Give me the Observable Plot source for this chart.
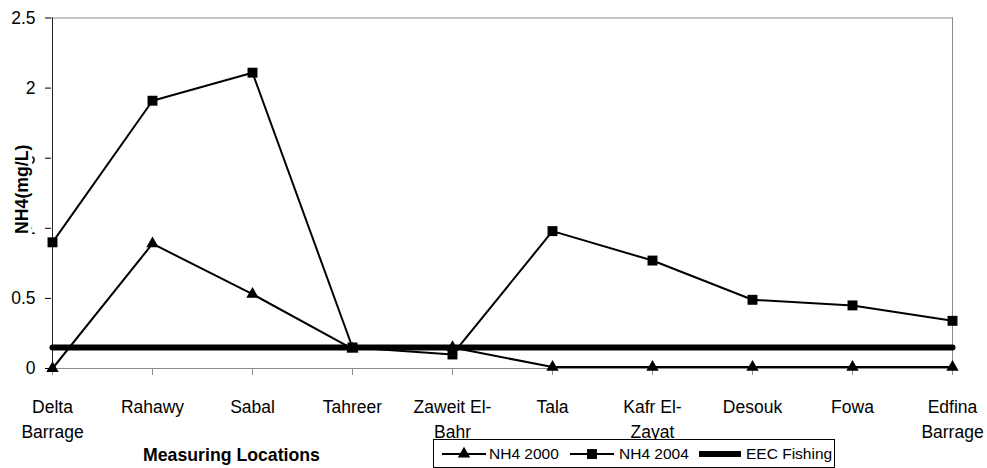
<!DOCTYPE html>
<html>
<head>
<meta charset="utf-8">
<script src="https://cdn.jsdelivr.net/npm/d3@7"></script>
<script src="https://cdn.jsdelivr.net/npm/@observablehq/plot@0.6"></script>
<style>
  body { margin: 0; background: #fff; }
  #chart { position: relative; width: 987px; height: 468px; font-family: "Liberation Sans", Arial, sans-serif; }
  #chart svg { display: block; }
  .legend { position: absolute; left: 433px; top: 439px; width: 400px; height: 27px; border: 1px solid #000; background: #fff; font-size: 15.5px; color: #000; }
  .legend .item { position: absolute; top: 0; height: 27px; line-height: 27px; white-space: nowrap; }
  .legend svg { position: absolute; top: 0; }
</style>
</head>
<body>
<div id="chart"></div>
<script>
// Measuring locations along the river (x categories)
const locations = ["Delta\nBarrage", "Rahawy", "Sabal", "Tahreer", "Zaweit El-\nBahr", "Tala", "Kafr El-\nZayat", "Desouk", "Fowa", "Edfina\nBarrage"];

// NH4 concentrations, mg/L
const nh4_2000 = [0.00, 0.89, 0.53, 0.14, 0.15, 0.01, 0.01, 0.01, 0.01, 0.01];
const nh4_2004 = [0.90, 1.91, 2.11, 0.15, 0.10, 0.98, 0.77, 0.49, 0.45, 0.34];
// EEC fishing standard
const eecFishing = [0.15, 0.15, 0.15, 0.15, 0.15, 0.15, 0.15, 0.15, 0.15, 0.15];

const yTicks = [0, 0.5, 1, 1.5, 2, 2.5];
const seriesNames = ["NH4 2000", "NH4 2004", "EEC Fishing"];
const xTitle = "Measuring Locations";
const yTitle = "NH4(mg/L)";

const rows = (vals) => locations.map((loc, i) => ({loc, v: vals[i]}));
const grey = "#8c8c8c";
const font = "'Liberation Sans', Arial, sans-serif";

const chart = Plot.plot({
  width: 987,
  height: 468,
  marginLeft: 51,
  marginRight: 34,
  marginTop: 17.5,
  marginBottom: 100,
  style: {fontFamily: font, fontSize: "17.5px", color: "black", background: "white", overflow: "visible"},
  x: {type: "point", domain: locations, padding: 0, label: null},
  y: {domain: [0, 2.5], label: null},
  marks: [
    // plot frame
    Plot.ruleY([2.5], {stroke: grey}),
    Plot.ruleX([locations[locations.length - 1]], {stroke: grey}),
    Plot.ruleY([0], {stroke: grey}),
    Plot.axisX({tickSize: 7, stroke: grey, fill: "black", tickPadding: 20, lineHeight: 1.43, fontSize: 17.5, label: null}),
    Plot.axisY({ticks: yTicks, tickFormat: d => `${d}`, tickSize: 6, tickPadding: 10, stroke: "black", fill: "black", fontSize: 17.5, label: null}),
    Plot.ruleX([locations[0]], {stroke: "#222"}),
    // series
    Plot.line(rows(eecFishing), {x: "loc", y: "v", stroke: "black", strokeWidth: 6}),
    Plot.line(rows(nh4_2000), {x: "loc", y: "v", stroke: "black", strokeWidth: 2}),
    Plot.dot(rows(nh4_2000), {x: "loc", y: "v", symbol: "triangle", r: 4.6, fill: "black", stroke: "none"}),
    Plot.line(rows(nh4_2004), {x: "loc", y: "v", stroke: "black", strokeWidth: 2}),
    Plot.dot(rows(nh4_2004), {x: "loc", y: "v", symbol: "square", r: 5.6, fill: "black", stroke: "none"}),
    // axis titles
    Plot.text([yTitle], {text: d => d, frameAnchor: "left", dx: -29, dy: -4, rotate: -90, textAnchor: "middle", lineAnchor: "middle", fontWeight: "bold", fontSize: 17.7, fill: "black", stroke: "white", strokeWidth: 8}),
    Plot.text([xTitle], {text: d => d, frameAnchor: "bottom-left", dx: 180, dy: 87, textAnchor: "middle", lineAnchor: "middle", fontWeight: "bold", fontSize: 17.7, fill: "black"})
  ]
});
document.getElementById("chart").append(chart);

// legend box below the plot
const legend = d3.select("#chart").append("div").attr("class", "legend");
const swatchLeft = [8, 136, 265];
const textLeft = [55, 185, 312];
const swatchW = [44, 44, 42];
seriesNames.forEach((name, i) => {
  const s = legend.append("svg").attr("width", swatchW[i]).attr("height", 27).style("left", swatchLeft[i] + "px");
  if (i < 2) {
    s.append("line").attr("x1", 0).attr("x2", swatchW[i]).attr("y1", 14).attr("y2", 14).attr("stroke", "black").attr("stroke-width", 2);
    s.append("path")
      .attr("transform", `translate(${swatchW[i] / 2},14)`)
      .attr("d", d3.symbol(i === 0 ? d3.symbolTriangle : d3.symbolSquare, i === 0 ? Math.PI * 4.6 * 4.6 : Math.PI * 5.6 * 5.6)())
      .attr("fill", "black");
  } else {
    s.append("line").attr("x1", 0).attr("x2", swatchW[i]).attr("y1", 14).attr("y2", 14).attr("stroke", "black").attr("stroke-width", 6);
  }
  legend.append("div").attr("class", "item").style("left", textLeft[i] + "px").text(name);
});
</script>
</body>
</html>
